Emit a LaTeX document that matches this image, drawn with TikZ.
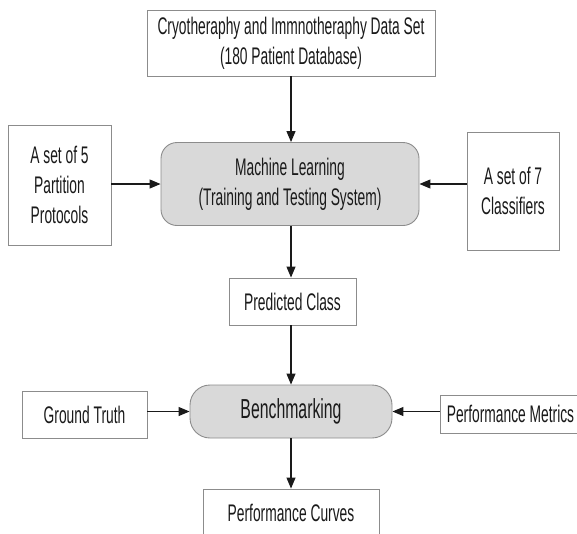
\documentclass[tikz,border=0pt]{standalone}
\usepackage{fontspec}
\setmainfont[FakeStretch=0.575]{Liberation Sans}
\usetikzlibrary{arrows.meta}
\definecolor{boxline}{HTML}{8C8C8C}
\definecolor{procfill}{HTML}{D9D9D9}
\definecolor{inkgray}{HTML}{1A1A1A}
\begin{document}
\begin{tikzpicture}[x=1pt,y=-1pt,
  every node/.style={text=inkgray, font=\fontsize{24}{30}\selectfont, align=center, inner sep=0pt},
  databox/.style={draw=boxline, line width=0.9pt, fill=white, rectangle},
  procbox/.style={draw=boxline, line width=0.9pt, fill=procfill, rectangle},
  flow/.style={draw=inkgray, line width=1.1pt, -{Triangle[length=11pt,width=9pt]}}]
\useasboundingbox (0,0) rectangle (577,533);
\clip (0,0) rectangle (577,533);

% inputs and processing blocks
\node[databox, minimum width=288pt, minimum height=66pt] (data) at (291,43)
  {Cryotheraphy and Immnotheraphy Data Set\\(180 Patient Database)};
\node[procbox, rounded corners=16pt, minimum width=258pt, minimum height=83pt] (ml) at (290,184)
  {Machine Learning\\(Training and Testing System)};
\node[databox, minimum width=103pt, minimum height=120pt] (parts) at (59.5,185)
  {A set of 5\\Partition\\Protocols};
\node[databox, minimum width=92pt, minimum height=118pt] (clf) at (513,191)
  {A set of 7\\Classifiers};
\node[databox, minimum width=127pt, minimum height=47pt] (pred) at (292.5,301.5)
  {Predicted Class};
\node[procbox, rounded corners=20pt, minimum width=202pt, minimum height=53pt] (bench) at (291,411.5)
  {\fontsize{27.5}{30}\selectfont Benchmarking};
\node[databox, minimum width=125pt, minimum height=47pt] (gt) at (84.5,414.5)
  {Ground Truth};
\node[databox, minimum width=141pt, minimum height=38pt] (pm) at (510.5,414)
  {Performance Metrics};
\node[databox, minimum width=176pt, minimum height=47pt] (pc) at (291,512.5)
  {Performance Curves};

% connectors
\draw[flow] (data.south -| 291,0) -- (ml.north -| 291,0);
\draw[flow] (parts.east |- ml.west) -- (ml.west);
\draw[flow] (clf.west |- ml.east) -- (ml.east);
\draw[flow] (ml.south -| 291,0) -- (pred.north -| 291,0);
\draw[flow] (pred.south -| 291,0) -- (bench.north -| 291,0);
\draw[flow] (gt.east |- bench.west) -- (bench.west);
\draw[flow] (pm.west |- bench.east) -- (bench.east);
\draw[flow] (bench.south -| 291,0) -- (pc.north -| 291,0);
\end{tikzpicture}
\end{document}
